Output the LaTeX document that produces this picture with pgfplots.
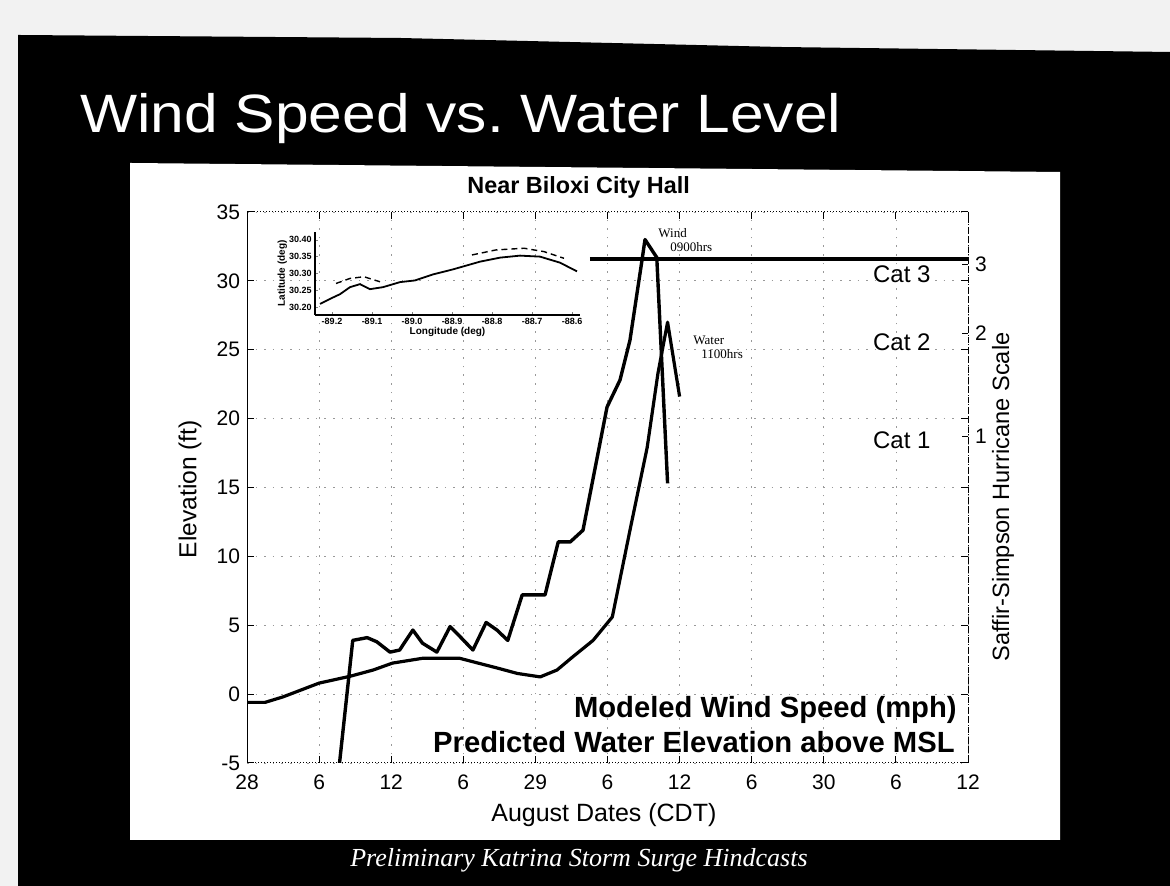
\documentclass[border=0pt]{standalone}
\usepackage{pgfplots}
\pgfplotsset{compat=1.18}
\usepackage{fontspec}
\setmainfont{Liberation Sans}
\newfontfamily\seriffont{Liberation Serif}
\begin{document}
\begin{tikzpicture}
% ---------- slide background (pixel coordinates, y downwards) ----------
\begin{scope}[x=0.5pt,y=-0.5pt,yshift=443pt]
\fill[black!5] (0,0) rectangle (1170,886);
\fill[black] (18,35) -- (400,38) -- (780,47) -- (1170,52) -- (1170,886) -- (18,886) -- cycle;
\fill[white] (130,163) -- (1060,172) -- (1060,840) -- (130,840) -- cycle;
\node[white, anchor=base west, font=\fontsize{27}{30}\selectfont, xscale=1.12, inner sep=0pt] at (80,133) {Wind Speed vs.\ Water Level};
\node[white, font=\seriffont\itshape\fontsize{13}{15}\selectfont] at (579,860) {Preliminary Katrina Storm Surge Hindcasts};
\end{scope}

% ---------- main axis ----------
\begin{axis}[
  at={(123.5pt,61.5pt)}, anchor=south west,
  scale only axis, width=360.5pt, height=275.5pt,
  xmin=0, xmax=60, ymin=-5, ymax=35,
  xtick={0,6,...,60}, xticklabels={28,6,12,6,29,6,12,6,30,6,12},
  ytick={-5,0,5,10,15,20,25,30,35},
  tick align=inside, major tick length=3.5pt,
  tick style={black, line width=0.5pt},
  axis line style={black, line width=0.5pt, densely dotted},
  grid=major, grid style={black!40, line width=0.4pt, dash pattern=on 0.8pt off 3.5pt},
  ticklabel style={font=\fontsize{10.5}{12}\selectfont},
  xticklabel style={yshift=-2.5pt},
  /pgf/number format/assume math mode=true,
  every axis title shift=0pt,
  title={Near Biloxi City Hall},
  title style={font=\bfseries\fontsize{11.7}{13}\selectfont, at={(rel axis cs:0.46,1.0454)}, anchor=center},
  xlabel={August Dates (CDT)},
  xlabel style={font=\fontsize{12.5}{14}\selectfont, at={(rel axis cs:0.495,-0.0944)}, anchor=center},
  ylabel={Elevation (ft)},
  ylabel style={font=\fontsize{12.3}{14}\selectfont, at={(rel axis cs:-0.079,0.497)}, anchor=center},
]
\draw[black, line width=0.9pt] (rel axis cs:0,0) -- (rel axis cs:0,1);
% Saffir-Simpson Cat 3 reference line
\addplot[black, line width=2pt] coordinates {(28.54,31.6) (60,31.6)};
% Predicted water elevation
\addplot[black, line width=1.6pt, line join=round] coordinates {
(0,-0.6) (1.5,-0.6) (3,-0.2) (6,0.8) (8.6,1.3) (10.5,1.75) (12.1,2.25)
(14.6,2.6) (17.7,2.6) (18.8,2.35) (20.8,1.9) (22.5,1.5) (24.4,1.25)
(25.8,1.75) (27.1,2.7) (28.8,3.9) (30.4,5.6) (31.87,11.9) (33.3,17.9)
(34.2,23.3) (35.0,27.0) (36.0,21.6)};
% Modeled wind speed
\addplot[black, line width=1.7pt, line join=round] coordinates {
(7.7,-5) (8.8,3.9) (10.0,4.1) (10.8,3.8) (11.9,3.05) (12.7,3.2) (13.8,4.65)
(14.6,3.7) (15.8,3.05) (16.9,4.9) (17.7,4.2) (18.8,3.2) (19.9,5.2)
(20.8,4.65) (21.7,3.9) (22.9,7.2) (24.8,7.2) (25.9,11.05) (26.9,11.05)
(27.96,11.9) (29.96,20.84) (31.04,22.8) (31.87,25.7) (32.87,31.5)
(33.12,33.0) (34.1,31.7) (35.0,15.3)};
\end{axis}

% ---------- right Saffir-Simpson scale ----------
\begin{axis}[
  at={(123.5pt,61.5pt)}, anchor=south west,
  scale only axis, width=360.5pt, height=275.5pt,
  xmin=0, xmax=60, ymin=-5, ymax=35,
  axis x line=none, axis y line*=right,
  axis line style={black, line width=0.5pt, densely dashed},
  ytick={18.7,26.2,31.2}, yticklabels={1,2,3},
  tick align=inside, major tick length=3pt,
  tick style={black, line width=0.5pt},
  ticklabel style={font=\fontsize{10.5}{12}\selectfont},
  ylabel={Saffir-Simpson Hurricane Scale},
  ylabel style={font=\fontsize{11.8}{13}\selectfont, at={(rel axis cs:1.0485,0.483)}, anchor=center},
]
\end{axis}

% ---------- inset map ----------
\begin{axis}[
  at={(157.5pt,285.5pt)}, anchor=south west,
  scale only axis, width=132.5pt, height=41.5pt,
  xmin=-89.2425, xmax=-88.58, ymin=30.176, ymax=30.4235,
  axis x line*=bottom, axis y line*=left,
  axis line style={black, line width=0.6pt},
  xtick={-89.2,-89.1,-89.0,-88.9,-88.8,-88.7,-88.6},
  xticklabels={-89.2,-89.1,-89.0,-88.9,-88.8,-88.7,-88.6},
  ytick={30.2,30.25,30.3,30.35,30.4},
  yticklabels={30.20,30.25,30.30,30.35,30.40},
  tick align=inside, major tick length=1.5pt,
  ticklabel style={font=\bfseries\fontsize{4.5}{5}\selectfont, inner sep=1.5pt},
  /pgf/number format/assume math mode=true,
  xlabel={Longitude (deg)}, ylabel={Latitude (deg)},
  xlabel style={font=\bfseries\fontsize{5}{6}\selectfont, yshift=4pt},
  ylabel style={font=\bfseries\fontsize{5}{6}\selectfont, yshift=-4pt},
]
\addplot[black, line width=0.9pt] coordinates {
(-89.23,30.209) (-89.205,30.224) (-89.18,30.238) (-89.155,30.259) (-89.13,30.268)
(-89.105,30.253) (-89.0725,30.259) (-89.03,30.274) (-88.9925,30.279)
(-88.9475,30.297) (-88.8975,30.312) (-88.83,30.335) (-88.78,30.347)
(-88.73,30.353) (-88.68,30.35) (-88.63,30.332) (-88.5875,30.306)};
\addplot[black, line width=0.7pt, densely dashed] coordinates {
(-89.19,30.27) (-89.155,30.285) (-89.12,30.29) (-89.08,30.275)};
\addplot[black, line width=0.7pt, densely dashed] coordinates {
(-88.85,30.355) (-88.79,30.37) (-88.72,30.375) (-88.67,30.365) (-88.62,30.345)};
\end{axis}

% ---------- text annotations (pixel coordinates) ----------
\begin{scope}[x=0.5pt,y=-0.5pt,yshift=443pt]
\node[font=\fontsize{12}{14}\selectfont, anchor=west] at (866,274) {Cat 3};
\node[font=\fontsize{12}{14}\selectfont, anchor=west] at (866,342) {Cat 2};
\node[font=\fontsize{12}{14}\selectfont, anchor=west] at (866,440) {Cat 1};
\node[font=\seriffont\fontsize{6.5}{7}\selectfont, anchor=west, align=left, inner sep=0pt] at (658,240) {Wind\\\hspace*{6pt}0900hrs};
\node[font=\seriffont\fontsize{6.5}{7}\selectfont, anchor=west, align=left, inner sep=0pt] at (693,347) {Water\\\hspace*{4pt}1100hrs};
\node[font=\bfseries\fontsize{14.6}{16}\selectfont, anchor=east, inner sep=0pt] at (957,710) {Modeled Wind Speed (mph)};
\node[font=\bfseries\fontsize{14.6}{16}\selectfont, anchor=east, inner sep=0pt] at (955,742) {Predicted Water Elevation above MSL};
\end{scope}
\end{tikzpicture}
\end{document}
